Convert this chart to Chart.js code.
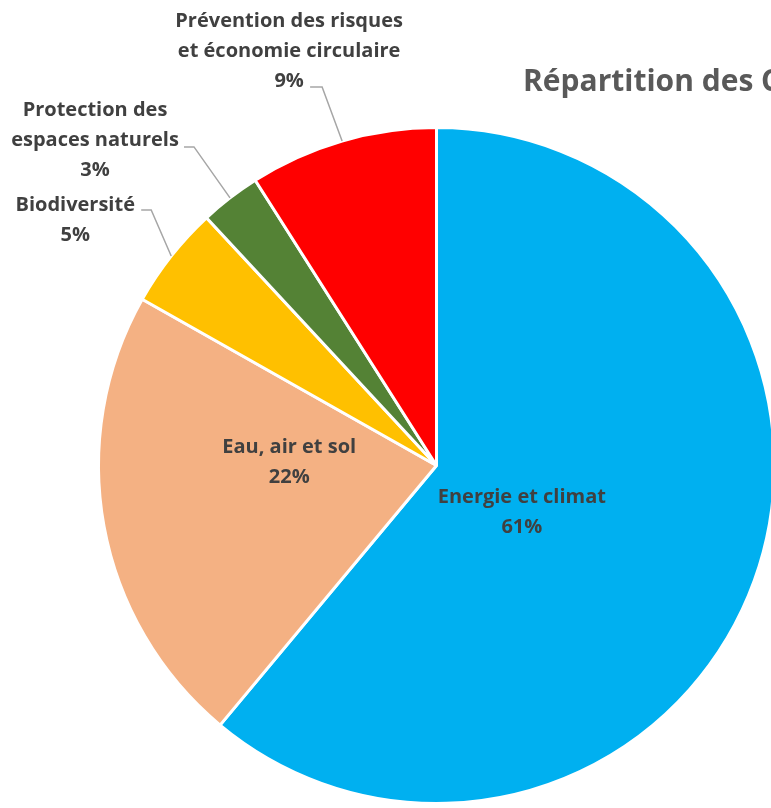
<!DOCTYPE html>
<html>
<head>
<meta charset="utf-8">
<script src="https://cdn.jsdelivr.net/npm/chart.js@4.4.1/dist/chart.umd.min.js"></script>
<style>
  html, body { margin: 0; padding: 0; background: #fff; overflow: hidden; }
  .wrap { width: 771px; height: 808px; overflow: hidden; position: relative; }
  canvas { display: block; }
</style>
</head>
<body>
<div class="wrap"><canvas id="pie" width="800" height="808"></canvas></div>

<script>
// données (parts en %)
const categories = ['Energie et climat', 'Eau, air et sol', 'Biodiversité',
  'Protection des espaces naturels', 'Prévention des risques et économie circulaire'];
const shares = [61.0, 22.1, 4.9, 2.9, 9.0];
const labelLines = [
  ['Energie et climat'],
  ['Eau, air et sol'],
  ['Biodiversité'],
  ['Protection des', 'espaces naturels'],
  ['Prévention des risques', 'et économie circulaire']
];
const sliceColors = ['#00B0F0', '#F4B183', '#FFC000', '#548235', '#FF0000'];
const titleText = 'Répartition des Certificats';

// placement des étiquettes (style)
// inside: fraction du rayon le long de l'angle médian + décalage px
// outside: coude relatif au bord de l'arc, puis texte relatif au coude
const labelStyle = [
  { inside: true, frac: 0.30, dx: -10, dy: 12 },
  { inside: true, frac: 0.44, dx: -1, dy: -30 },
  { inside: false, elbow: [-20, -46], tail: 10, tx: -76, ty: -5 },
  { inside: false, elbow: [-36, -51], tail: 10, tx: -99, ty: -37 },
  { inside: false, elbow: [-20, -54], tail: 12, tx: -33, ty: -66 }
];

const FONT = 'bold 20px "Open Sans", "Lato", sans-serif';
const LINE_H = 30;
const TEXT_COLOR = '#404040';

const labelPlugin = {
  id: 'pieLabels',
  afterDatasetsDraw(chart) {
    const ctx = chart.ctx;
    const meta = chart.getDatasetMeta(0);
    const total = shares.reduce((a, b) => a + b, 0);
    ctx.save();
    ctx.font = FONT;
    ctx.fillStyle = TEXT_COLOR;
    ctx.textAlign = 'center';
    ctx.textBaseline = 'middle';
    meta.data.forEach((arc, i) => {
      const p = arc.getProps(['x', 'y', 'startAngle', 'endAngle', 'outerRadius']);
      const mid = (p.startAngle + p.endAngle) / 2;
      const st = labelStyle[i];
      const lines = labelLines[i].concat([Math.round(shares[i] / total * 100) + '%']);
      let cx, cy;
      if (st.inside) {
        cx = p.x + Math.cos(mid) * p.outerRadius * st.frac + st.dx;
        cy = p.y + Math.sin(mid) * p.outerRadius * st.frac + st.dy;
        cy -= (lines.length - 1) * LINE_H / 2;
      } else {
        const ax = p.x + Math.cos(mid) * p.outerRadius;
        const ay = p.y + Math.sin(mid) * p.outerRadius;
        const ex = ax + st.elbow[0], ey = ay + st.elbow[1];
        ctx.strokeStyle = '#A6A6A6';
        ctx.lineWidth = 1.5;
        ctx.beginPath();
        ctx.moveTo(ax, ay);
        ctx.lineTo(ex, ey);
        ctx.lineTo(ex - st.tail, ey);
        ctx.stroke();
        cx = ex + st.tx;
        cy = ey + st.ty;
      }
      lines.forEach((t, k) => ctx.fillText(t, cx, cy + k * LINE_H));
    });
    // titre (coupé à droite comme dans l'original)
    ctx.font = 'bold 30px "Open Sans", "Lato", sans-serif';
    ctx.fillStyle = '#595959';
    ctx.textAlign = 'left';
    ctx.fillText(titleText, 523, 82);
    ctx.restore();
  }
};

new Chart(document.getElementById('pie'), {
  type: 'pie',
  data: {
    labels: categories,
    datasets: [{
      data: shares,
      backgroundColor: sliceColors,
      borderColor: '#FFFFFF',
      borderWidth: 3,
      hoverOffset: 0
    }]
  },
  options: {
    responsive: false,
    animation: false,
    devicePixelRatio: 1,
    layout: { padding: { left: 97, right: 24, top: 126, bottom: 3 } },
    plugins: {
      legend: { display: false },
      tooltip: { enabled: false },
      title: { display: false }
    }
  },
  plugins: [labelPlugin]
});
</script>
</body>
</html>
